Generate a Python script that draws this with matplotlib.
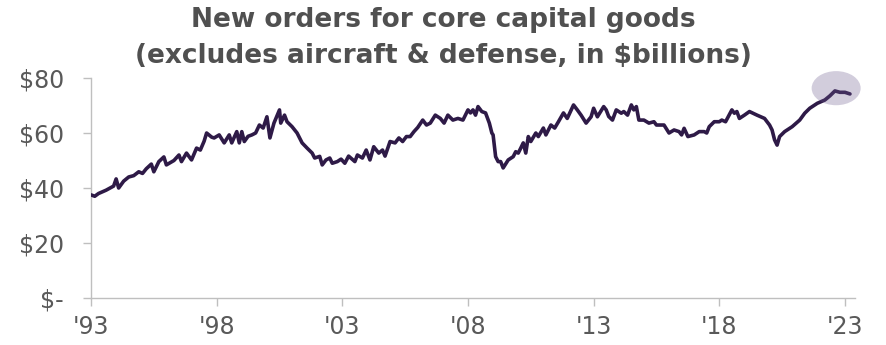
import matplotlib
matplotlib.use("Agg")
import matplotlib.pyplot as plt
from matplotlib.patches import Ellipse

years = [1993.0, 1993.15, 1993.3, 1993.6, 1993.9, 1994.0, 1994.1, 1994.3, 1994.5, 1994.7, 1994.9,
         1995.05, 1995.2, 1995.4, 1995.5, 1995.7, 1995.9, 1996.0, 1996.3, 1996.5, 1996.6, 1996.8,
         1997.0, 1997.2, 1997.35, 1997.5, 1997.6, 1997.8, 1997.9, 1998.1, 1998.3, 1998.5, 1998.6,
         1998.8, 1998.9, 1999.0, 1999.1, 1999.25, 1999.4, 1999.55, 1999.7, 1999.85, 2000.0, 2000.12,
         2000.28, 2000.5, 2000.55, 2000.7, 2000.8, 2001.0, 2001.2, 2001.4, 2001.6, 2001.8, 2001.9,
         2002.1, 2002.2, 2002.35, 2002.5, 2002.6, 2002.8, 2002.95, 2003.1, 2003.25, 2003.5, 2003.6,
         2003.8, 2003.95, 2004.1, 2004.25, 2004.45, 2004.6, 2004.7, 2004.9, 2005.1, 2005.25, 2005.4,
         2005.55, 2005.7, 2005.85, 2006.0, 2006.2, 2006.35, 2006.5, 2006.7, 2006.9, 2007.05, 2007.2,
         2007.4, 2007.6, 2007.8, 2008.0, 2008.1, 2008.2, 2008.3, 2008.4, 2008.55, 2008.7, 2008.85,
         2008.95, 2009.0, 2009.1, 2009.2, 2009.3, 2009.4, 2009.6, 2009.8, 2009.9, 2010.0, 2010.1,
         2010.2, 2010.3, 2010.4, 2010.5, 2010.7, 2010.8, 2011.0, 2011.1, 2011.3, 2011.45, 2011.6,
         2011.8, 2011.95, 2012.2, 2012.35, 2012.5, 2012.7, 2012.9, 2013.0, 2013.15, 2013.4, 2013.5,
         2013.6, 2013.75, 2013.9, 2014.1, 2014.2, 2014.35, 2014.5, 2014.6, 2014.7, 2014.8, 2015.0,
         2015.2, 2015.4, 2015.5, 2015.8, 2016.0, 2016.2, 2016.4, 2016.5, 2016.6, 2016.75, 2017.0,
         2017.2, 2017.4, 2017.5, 2017.6, 2017.8, 2018.0, 2018.1, 2018.25, 2018.5, 2018.6, 2018.7,
         2018.8, 2019.0, 2019.2, 2019.5, 2019.8, 2020.0, 2020.1, 2020.2, 2020.3, 2020.4, 2020.6,
         2020.9, 2021.2, 2021.4, 2021.6, 2021.9, 2022.2, 2022.4, 2022.6, 2022.8, 2023.0, 2023.2]

orders = [37.5, 37.0, 38.0, 39.2, 40.7, 43.3, 40.0, 42.5, 44.0, 44.5, 45.9,
          45.3, 47.0, 48.7, 45.9, 49.6, 51.3, 48.4, 50.0, 52.0, 49.6, 52.7,
          50.2, 54.5, 53.8, 57.0, 60.0, 58.5, 58.2, 59.3, 56.4, 59.3, 56.4,
          60.5, 56.4, 60.5, 56.9, 58.8, 59.3, 60.0, 62.9, 61.8, 65.9, 58.2,
          63.6, 68.4, 63.6, 66.5, 64.1, 62.3, 60.0, 56.4, 54.5, 52.7, 50.9,
          51.5, 48.4, 50.2, 50.9, 49.0, 49.6, 50.5, 49.0, 51.6, 49.6, 52.0,
          50.9, 53.8, 50.2, 55.0, 52.7, 53.8, 51.6, 56.9, 56.4, 58.2, 56.9,
          58.7, 58.7, 60.5, 62.0, 64.7, 62.9, 63.6, 66.5, 65.3, 63.6, 66.5,
          64.7, 65.3, 64.7, 68.4, 67.3, 68.4, 66.5, 69.6, 67.8, 67.3, 63.6,
          60.0, 59.3, 51.4, 49.6, 49.6, 47.3, 50.2, 51.4, 53.2, 52.7, 54.5,
          56.4, 52.7, 58.7, 56.9, 60.0, 58.7, 61.8, 59.3, 62.9, 61.8, 64.1,
          67.3, 65.3, 70.2, 68.4, 66.5, 63.6, 65.9, 69.0, 65.9, 69.6, 68.4,
          66.0, 64.7, 68.4, 67.2, 67.8, 66.5, 70.2, 68.4, 69.6, 64.7, 64.7,
          63.6, 64.1, 62.9, 62.9, 60.0, 61.1, 60.5, 59.3, 61.7, 58.7, 59.3,
          60.5, 60.5, 60.0, 62.3, 64.1, 64.1, 64.7, 64.1, 68.4, 67.2, 67.8,
          65.3, 66.5, 67.8, 66.5, 65.3, 62.9, 61.1, 57.5, 55.6, 58.7, 60.5,
          62.3, 64.7, 67.2, 69.0, 70.8, 72.0, 73.5, 75.3, 74.8, 74.8, 74.2]

x_ticks = [1993, 1998, 2003, 2008, 2013, 2018, 2023]
x_labels = ["'93", "'98", "'03", "'08", "'13", "'18", "'23"]
y_ticks = [0, 20, 40, 60, 80]
y_labels = ["$-", "$20", "$40", "$60", "$80"]

title_lines = ["New orders for core capital goods",
               "(excludes aircraft & defense, in $billions)"]

plt.rcParams['font.family'] = ['DejaVu Sans']

fig = plt.figure(figsize=(8.86, 3.45), dpi=100)
ax = fig.add_axes([91/886, 1 - 298/345, (855 - 91)/886, (298 - 78)/345])

ax.plot(years, orders, color='#2e1a47', lw=2.6, solid_joinstyle='round',
        solid_capstyle='round', zorder=3)

ell = Ellipse((2022.65, 76.3), width=1.95, height=12.4, facecolor='#6b5a8e',
              alpha=0.3, edgecolor='none', zorder=4, clip_on=False)
ax.add_patch(ell)

ax.set_xlim(1993, 2023.4)
ax.set_ylim(0, 80)
ax.set_xticks(x_ticks)
ax.set_xticklabels(x_labels)
ax.set_yticks(y_ticks)
ax.set_yticklabels(y_labels)

for s in ['top', 'right']:
    ax.spines[s].set_visible(False)
for s in ['left', 'bottom']:
    ax.spines[s].set_color('#bfbfbf')
    ax.spines[s].set_linewidth(1.0)

ax.tick_params(axis='both', colors='#bfbfbf', labelcolor='#595959', labelsize=17,
               length=5.5, width=1.0, direction='out')
ax.tick_params(axis='y', pad=14)
ax.tick_params(axis='x', pad=7)

fig.text(0.5, 1 - 27/345, title_lines[0], ha='center', va='baseline',
         fontsize=19, fontweight='bold', color='#505050')
fig.text(0.5, 1 - 63/345, title_lines[1], ha='center', va='baseline',
         fontsize=19, fontweight='bold', color='#505050')

fig.savefig('out.png', dpi=100)
